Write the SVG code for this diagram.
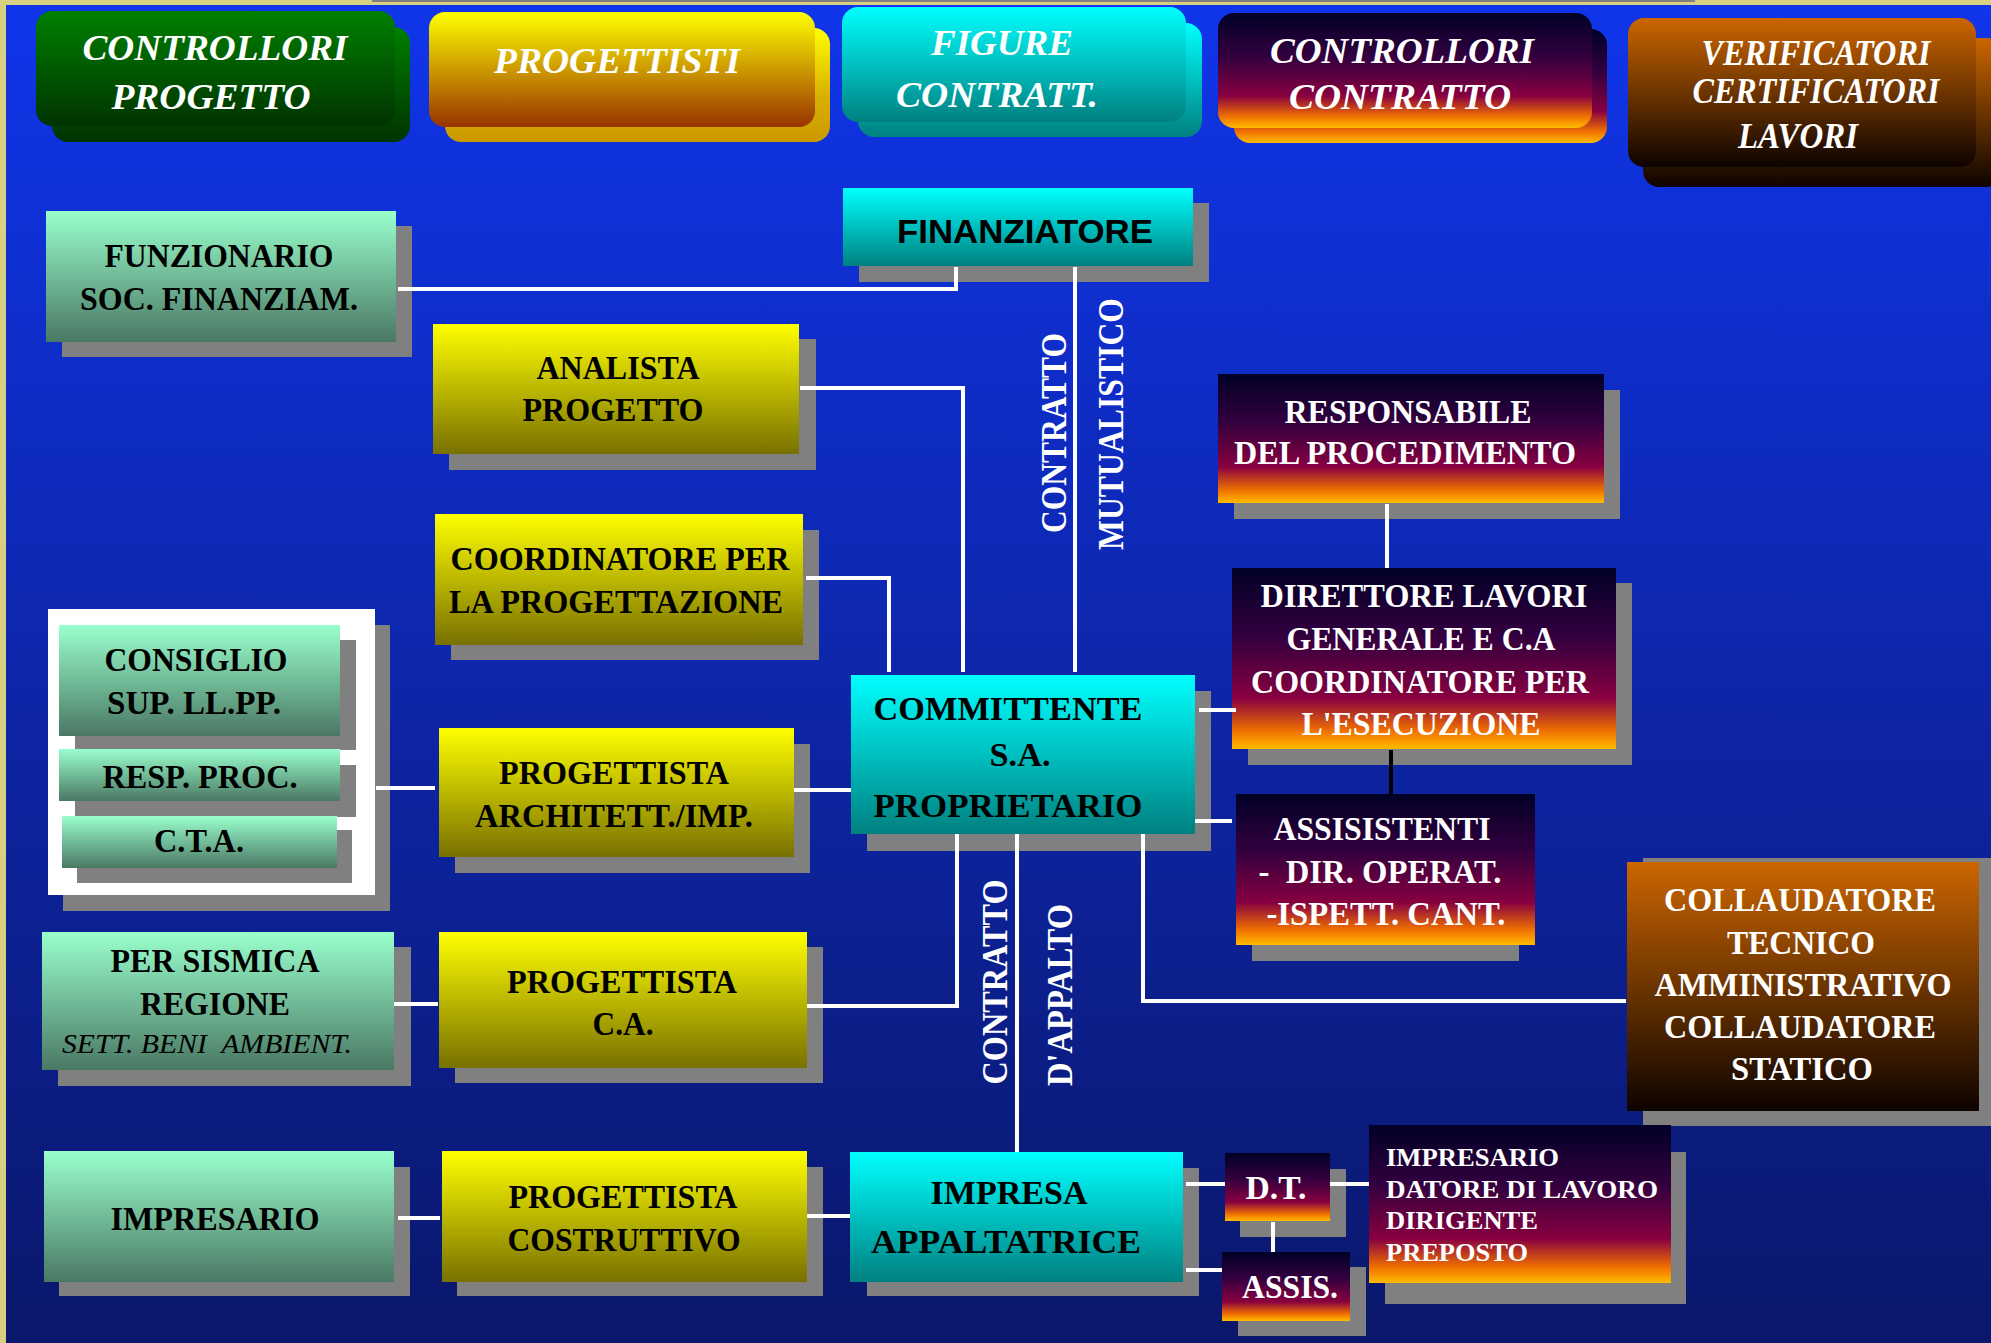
<svg xmlns="http://www.w3.org/2000/svg" width="1991" height="1343" viewBox="0 0 1991 1343">
<defs>
<linearGradient id="gBg" x1="0" y1="0" x2="0" y2="1"><stop offset="0" stop-color="#1035ea"/><stop offset="1" stop-color="#0a176a"/></linearGradient>
<linearGradient id="gMint" x1="0" y1="0" x2="0" y2="1"><stop offset="0" stop-color="#99ffcc"/><stop offset="1" stop-color="#4a7864"/></linearGradient>
<linearGradient id="gYel" x1="0" y1="0" x2="0" y2="1"><stop offset="0" stop-color="#ffff00"/><stop offset="1" stop-color="#787000"/></linearGradient>
<linearGradient id="gCyan" x1="0" y1="0" x2="0" y2="1"><stop offset="0" stop-color="#00ffff"/><stop offset="1" stop-color="#008080"/></linearGradient>
<linearGradient id="gSun" x1="0" y1="0" x2="0" y2="1"><stop offset="0" stop-color="#000026"/><stop offset="0.38" stop-color="#33003f"/><stop offset="0.72" stop-color="#880040"/><stop offset="0.9" stop-color="#f07000"/><stop offset="1" stop-color="#ffbb00"/></linearGradient>
<linearGradient id="gBrown" x1="0" y1="0" x2="0" y2="1"><stop offset="0" stop-color="#cc6600"/><stop offset="1" stop-color="#0d0300"/></linearGradient>
<linearGradient id="gGreen" x1="0" y1="0" x2="0" y2="1"><stop offset="0" stop-color="#008000"/><stop offset="1" stop-color="#003300"/></linearGradient>
<linearGradient id="gHY" x1="0" y1="0" x2="0" y2="1"><stop offset="0" stop-color="#ffff00"/><stop offset="1" stop-color="#993300"/></linearGradient>
<linearGradient id="gHYb" x1="0" y1="0" x2="0" y2="1"><stop offset="0" stop-color="#ffff00"/><stop offset="0.6" stop-color="#d8b000"/><stop offset="1" stop-color="#cc9900"/></linearGradient>
<style>
.sh{fill:#808080}
.t{font-family:"Liberation Serif","Times New Roman",serif;font-weight:bold;font-size:33px;text-anchor:middle;fill:#000}
.w{fill:#fff}
.s{font-size:26px;text-anchor:start}
.h{font-family:"Liberation Serif","Times New Roman",serif;font-style:italic;font-weight:bold;font-size:36px;text-anchor:middle;fill:#fff}
.v{font-family:"Liberation Serif","Times New Roman",serif;font-weight:bold;font-size:36px;text-anchor:middle;fill:#fff}
.c{fill:none;stroke:#fff;stroke-width:4}
</style>
</defs>
<rect x="0" y="0" width="1991" height="1343" fill="#d8d080"/>
<rect x="372" y="0" width="1323" height="2" fill="#808080"/>
<rect x="6" y="5" width="1985" height="1338" fill="url(#gBg)"/>

<g id="hdr-controllori-progetto">
<rect x="52" y="27" width="358" height="115" rx="16" fill="url(#gGreen)"/>
<rect x="36" y="11" width="359" height="115" rx="16" fill="url(#gGreen)"/>
<text class="h" x="215" y="60" textLength="265" lengthAdjust="spacingAndGlyphs">CONTROLLORI</text>
<text class="h" x="211" y="109" textLength="199" lengthAdjust="spacingAndGlyphs">PROGETTO</text>
</g>
<g id="hdr-progettisti">
<rect x="445" y="28" width="385" height="114" rx="16" fill="url(#gHYb)"/>
<rect x="429" y="12" width="386" height="115" rx="16" fill="url(#gHY)"/>
<text class="h" x="617" y="73" textLength="246" lengthAdjust="spacingAndGlyphs">PROGETTISTI</text>
</g>
<g id="hdr-figure">
<rect x="858" y="23" width="344" height="114" rx="16" fill="url(#gCyan)"/>
<rect x="842" y="7" width="344" height="115" rx="16" fill="url(#gCyan)"/>
<text class="h" x="1002" y="55" textLength="142" lengthAdjust="spacingAndGlyphs">FIGURE</text>
<text class="h" x="997" y="107" textLength="202" lengthAdjust="spacingAndGlyphs">CONTRATT.</text>
</g>
<g id="hdr-controllori-contratto">
<rect x="1234" y="29" width="373" height="114" rx="16" fill="url(#gSun)"/>
<rect x="1218" y="13" width="374" height="115" rx="16" fill="url(#gSun)"/>
<text class="h" x="1402" y="63" font-size="34" textLength="264" lengthAdjust="spacingAndGlyphs">CONTROLLORI</text>
<text class="h" x="1400" y="109" font-size="34" textLength="222" lengthAdjust="spacingAndGlyphs">CONTRATTO</text>
</g>
<g id="hdr-verificatori">
<rect x="1643" y="38" width="360" height="149" rx="16" fill="url(#gBrown)"/>
<rect x="1628" y="18" width="348" height="149" rx="16" fill="url(#gBrown)"/>
<text class="h" x="1816" y="65" font-size="30" textLength="229" lengthAdjust="spacingAndGlyphs">VERIFICATORI</text>
<text class="h" x="1816" y="103" font-size="30" textLength="247" lengthAdjust="spacingAndGlyphs">CERTIFICATORI</text>
<text class="h" x="1798" y="148" font-size="30" textLength="120" lengthAdjust="spacingAndGlyphs">LAVORI</text>
</g>

<g id="funzionario">
<rect class="sh" x="62" y="226" width="350" height="131"/>
<rect x="46" y="211" width="350" height="131" fill="url(#gMint)"/>
<text class="t" x="219" y="267" textLength="229" lengthAdjust="spacingAndGlyphs">FUNZIONARIO</text>
<text class="t" x="219" y="310" textLength="278" lengthAdjust="spacingAndGlyphs">SOC. FINANZIAM.</text>
</g>
<g id="finanziatore">
<rect class="sh" x="859" y="203" width="350" height="79"/>
<rect x="843" y="188" width="350" height="78" fill="url(#gCyan)"/>
<text x="1025" y="243" font-family="'Liberation Sans',Arial,sans-serif" font-weight="bold" font-size="33" text-anchor="middle" textLength="256" lengthAdjust="spacingAndGlyphs">FINANZIATORE</text>
</g>
<g id="analista">
<rect class="sh" x="449" y="339" width="367" height="131"/>
<rect x="433" y="324" width="366" height="130" fill="url(#gYel)"/>
<text class="t" x="618" y="379" textLength="163" lengthAdjust="spacingAndGlyphs">ANALISTA</text>
<text class="t" x="613" y="421" textLength="181" lengthAdjust="spacingAndGlyphs">PROGETTO</text>
</g>
<g id="coordinatore-progettazione">
<rect class="sh" x="451" y="530" width="368" height="130"/>
<rect x="435" y="514" width="368" height="131" fill="url(#gYel)"/>
<text class="t" x="620" y="570" textLength="339" lengthAdjust="spacingAndGlyphs">COORDINATORE PER</text>
<text class="t" x="616" y="613" textLength="334" lengthAdjust="spacingAndGlyphs">LA PROGETTAZIONE</text>
</g>
<g id="gruppo-consiglio">
<rect class="sh" x="63" y="625" width="327" height="286"/>
<rect x="48" y="609" width="327" height="286" fill="#fff"/>
<rect class="sh" x="75" y="640" width="281" height="110"/>
<rect x="59" y="625" width="281" height="111" fill="url(#gMint)"/>
<text class="t" x="196" y="671" textLength="183" lengthAdjust="spacingAndGlyphs">CONSIGLIO</text>
<text class="t" x="194" y="714" textLength="174" lengthAdjust="spacingAndGlyphs">SUP. LL.PP.</text>
<rect class="sh" x="75" y="765" width="281" height="52"/>
<rect x="59" y="749" width="281" height="52" fill="url(#gMint)"/>
<text class="t" x="200" y="788" textLength="195" lengthAdjust="spacingAndGlyphs">RESP. PROC.</text>
<rect class="sh" x="77" y="830" width="275" height="53"/>
<rect x="62" y="816" width="275" height="52" fill="url(#gMint)"/>
<text class="t" x="199" y="852" textLength="90" lengthAdjust="spacingAndGlyphs">C.T.A.</text>
</g>
<g id="progettista-arch">
<rect class="sh" x="455" y="744" width="355" height="129"/>
<rect x="439" y="728" width="355" height="129" fill="url(#gYel)"/>
<text class="t" x="614" y="784" textLength="230" lengthAdjust="spacingAndGlyphs">PROGETTISTA</text>
<text class="t" x="614" y="827" textLength="278" lengthAdjust="spacingAndGlyphs">ARCHITETT./IMP.</text>
</g>
<g id="per-sismica">
<rect class="sh" x="58" y="947" width="353" height="139"/>
<rect x="42" y="932" width="352" height="138" fill="url(#gMint)"/>
<text class="t" x="215" y="972" textLength="209" lengthAdjust="spacingAndGlyphs">PER SISMICA</text>
<text class="t" x="215" y="1015" textLength="150" lengthAdjust="spacingAndGlyphs">REGIONE</text>
<text x="207" y="1053" font-family="'Liberation Serif','Times New Roman',serif" font-style="italic" font-size="28" text-anchor="middle" textLength="290" lengthAdjust="spacingAndGlyphs" xml:space="preserve">SETT. BENI  AMBIENT.</text>
</g>
<g id="progettista-ca">
<rect class="sh" x="455" y="947" width="368" height="136"/>
<rect x="439" y="932" width="368" height="136" fill="url(#gYel)"/>
<text class="t" x="622" y="993" textLength="230" lengthAdjust="spacingAndGlyphs">PROGETTISTA</text>
<text class="t" x="623" y="1035" textLength="61" lengthAdjust="spacingAndGlyphs">C.A.</text>
</g>
<g id="impresario">
<rect class="sh" x="59" y="1167" width="351" height="129"/>
<rect x="44" y="1151" width="350" height="131" fill="url(#gMint)"/>
<text class="t" x="215" y="1230" textLength="209" lengthAdjust="spacingAndGlyphs">IMPRESARIO</text>
</g>
<g id="progettista-costruttivo">
<rect class="sh" x="457" y="1167" width="366" height="129"/>
<rect x="442" y="1151" width="365" height="131" fill="url(#gYel)"/>
<text class="t" x="623" y="1208" textLength="229" lengthAdjust="spacingAndGlyphs">PROGETTISTA</text>
<text class="t" x="624" y="1251" textLength="233" lengthAdjust="spacingAndGlyphs">COSTRUTTIVO</text>
</g>
<g id="committente">
<rect class="sh" x="867" y="691" width="344" height="160"/>
<rect x="851" y="675" width="344" height="159" fill="url(#gCyan)"/>
<text class="t" x="1008" y="720" font-size="36" textLength="269" lengthAdjust="spacingAndGlyphs">COMMITTENTE</text>
<text class="t" x="1020" y="766" font-size="36" textLength="61" lengthAdjust="spacingAndGlyphs">S.A.</text>
<text class="t" x="1008" y="817" font-size="36" textLength="269" lengthAdjust="spacingAndGlyphs">PROPRIETARIO</text>
</g>
<g id="responsabile">
<rect class="sh" x="1234" y="390" width="386" height="129"/>
<rect x="1218" y="374" width="386" height="129" fill="url(#gSun)"/>
<text class="t w" x="1408" y="423" textLength="247" lengthAdjust="spacingAndGlyphs">RESPONSABILE</text>
<text class="t w" x="1405" y="464" textLength="342" lengthAdjust="spacingAndGlyphs">DEL PROCEDIMENTO</text>
</g>
<g id="direttore-lavori">
<rect class="sh" x="1248" y="583" width="384" height="182"/>
<rect x="1232" y="568" width="384" height="181" fill="url(#gSun)"/>
<text class="t w" x="1424" y="607" textLength="327" lengthAdjust="spacingAndGlyphs">DIRETTORE LAVORI</text>
<text class="t w" x="1421" y="650" textLength="269" lengthAdjust="spacingAndGlyphs">GENERALE E C.A</text>
<text class="t w" x="1420" y="693" textLength="338" lengthAdjust="spacingAndGlyphs">COORDINATORE PER</text>
<text class="t w" x="1421" y="735" textLength="239" lengthAdjust="spacingAndGlyphs">L'ESECUZIONE</text>
</g>
<g id="assistenti">
<rect class="sh" x="1252" y="810" width="267" height="151"/>
<rect x="1236" y="794" width="299" height="151" fill="url(#gSun)"/>
<text class="t w" x="1382" y="840" textLength="217" lengthAdjust="spacingAndGlyphs">ASSISISTENTI</text>
<text class="t w" x="1380" y="883" textLength="243" lengthAdjust="spacingAndGlyphs" xml:space="preserve">-  DIR. OPERAT.</text>
<text class="t w" x="1386" y="925" textLength="239" lengthAdjust="spacingAndGlyphs">-ISPETT. CANT.</text>
</g>
<g id="collaudatore">
<rect class="sh" x="1643" y="858" width="348" height="268"/>
<rect x="1627" y="862" width="352" height="249" fill="url(#gBrown)"/>
<text class="t w" x="1800" y="911" textLength="272" lengthAdjust="spacingAndGlyphs">COLLAUDATORE</text>
<text class="t w" x="1801" y="954" textLength="148" lengthAdjust="spacingAndGlyphs">TECNICO</text>
<text class="t w" x="1803" y="996" textLength="297" lengthAdjust="spacingAndGlyphs">AMMINISTRATIVO</text>
<text class="t w" x="1800" y="1038" textLength="272" lengthAdjust="spacingAndGlyphs">COLLAUDATORE</text>
<text class="t w" x="1802" y="1080" textLength="142" lengthAdjust="spacingAndGlyphs">STATICO</text>
</g>
<g id="impresa">
<rect class="sh" x="867" y="1168" width="332" height="128"/>
<rect x="850" y="1152" width="333" height="130" fill="url(#gCyan)"/>
<text class="t" x="1009" y="1204" textLength="157" lengthAdjust="spacingAndGlyphs">IMPRESA</text>
<text class="t" x="1006" y="1253" textLength="270" lengthAdjust="spacingAndGlyphs">APPALTATRICE</text>
</g>
<g id="dt">
<rect class="sh" x="1240" y="1169" width="106" height="68"/>
<rect x="1225" y="1153" width="105" height="68" fill="url(#gSun)"/>
<text class="t w" x="1276" y="1199" textLength="61" lengthAdjust="spacingAndGlyphs">D.T.</text>
</g>
<g id="assis">
<rect class="sh" x="1238" y="1267" width="128" height="69"/>
<rect x="1222" y="1252" width="128" height="69" fill="url(#gSun)"/>
<text class="t w" x="1290" y="1298" textLength="96" lengthAdjust="spacingAndGlyphs">ASSIS.</text>
</g>
<g id="impresario-datore">
<rect class="sh" x="1385" y="1152" width="301" height="152"/>
<rect x="1369" y="1125" width="302" height="158" fill="url(#gSun)"/>
<text class="t w s" x="1386" y="1166" textLength="173" lengthAdjust="spacingAndGlyphs">IMPRESARIO</text>
<text class="t w s" x="1386" y="1198" textLength="272" lengthAdjust="spacingAndGlyphs">DATORE DI LAVORO</text>
<text class="t w s" x="1386" y="1229" textLength="152" lengthAdjust="spacingAndGlyphs">DIRIGENTE</text>
<text class="t w s" x="1386" y="1261" textLength="142" lengthAdjust="spacingAndGlyphs">PREPOSTO</text>
</g>

<g id="connectors">
<path class="c" d="M398,289 H956 V267"/>
<path class="c" d="M800,388 H963 V672"/>
<path class="c" d="M806,578 H889 V672"/>
<path class="c" d="M1075,267 V672"/>
<path class="c" d="M376,788 H435"/>
<path class="c" d="M794,790 H851"/>
<path class="c" d="M394,1004 H438"/>
<path class="c" d="M807,1006 H957 V834"/>
<path class="c" d="M398,1218 H440"/>
<path class="c" d="M807,1216 H850"/>
<path class="c" d="M1199,710 H1236"/>
<path class="c" d="M1195,821 H1232"/>
<path class="c" d="M1017,834 V1152"/>
<path class="c" d="M1143,834 V1001 H1626"/>
<path class="c" d="M1387,504 V568"/>
<path class="c" d="M1391,750 V794" style="stroke:#000"/>
<path class="c" d="M1186,1184 H1225"/>
<path class="c" d="M1186,1270 H1222"/>
<path class="c" d="M1330,1184 H1369"/>
<path class="c" d="M1273,1222 V1252"/>
<text class="v" transform="translate(1066,433) rotate(-90)" textLength="200" lengthAdjust="spacingAndGlyphs">CONTRATTO</text>
<text class="v" transform="translate(1123,424) rotate(-90)" textLength="252" lengthAdjust="spacingAndGlyphs">MUTUALISTICO</text>
<text class="v" transform="translate(1007,982) rotate(-90)" textLength="205" lengthAdjust="spacingAndGlyphs">CONTRATTO</text>
<text class="v" transform="translate(1072,995) rotate(-90)" textLength="182" lengthAdjust="spacingAndGlyphs">D'APPALTO</text>
</g>
</svg>
